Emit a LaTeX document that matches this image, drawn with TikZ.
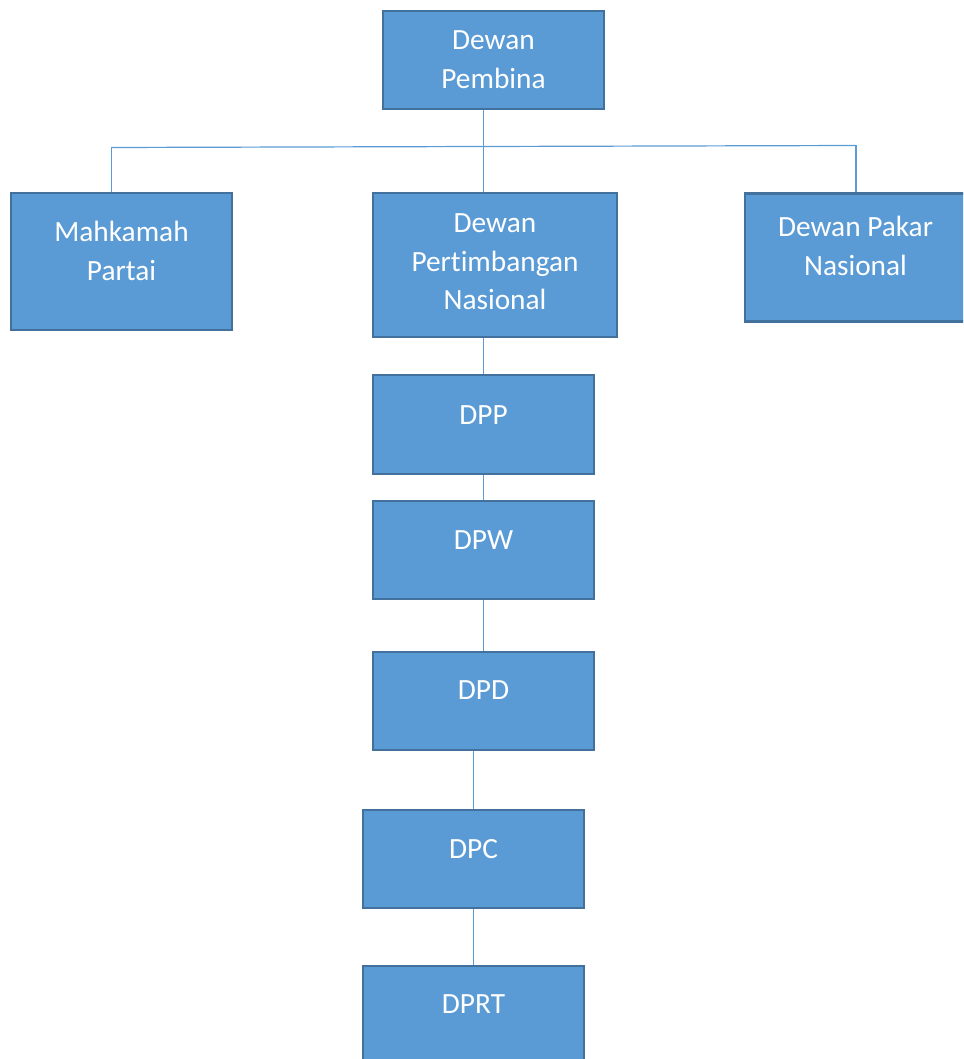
\documentclass[tikz,border=0pt]{standalone}
\usepackage{fontspec}
\setmainfont{Carlito}[Ligatures={NoCommon}]
\definecolor{unitfill}{HTML}{5B9BD5}
\definecolor{unitedge}{HTML}{41719C}
\definecolor{linkblue}{HTML}{5B9BD5}
\tikzset{
  unit/.style={rectangle, draw=unitedge, fill=unitfill, line width=1.9pt, inner sep=0pt},
  caption/.style={text=white, align=center, font=\fontsize{22}{29}\selectfont},
  link/.style={draw=linkblue, line width=0.9pt}
}
\begin{document}
\begin{tikzpicture}[x=0.75pt, y=-0.75pt]
			\pgfmathsetmacro{\px}{0.75}
			\useasboundingbox (0,0) rectangle (963,1059);
			\clip (0,0) rectangle (963,1059);
			% top and second row
			\node[unit, minimum width=221*\px pt, minimum height=98*\px pt, label={[caption]center:Dewan\\Pembina}] (pembina) at (493.5,60) {};
			\node[unit, minimum width=221*\px pt, minimum height=137*\px pt, label={[caption, yshift=10.5*\px pt]center:Mahkamah\\Partai}] (mahkamah) at (121.5,261.5) {};
			\node[unit, minimum width=244*\px pt, minimum height=144*\px pt, label={[caption, yshift=3*\px pt]center:Dewan\\Pertimbangan\\Nasional}] (dpn) at (495,265) {};
			\node[unit, minimum width=221*\px pt, minimum height=128*\px pt, label={[caption, yshift=11.5*\px pt]center:Dewan Pakar\\Nasional}] (pakar) at (855.5,257.5) {};
			% column of boards
			\node[unit, minimum width=221*\px pt, minimum height=99*\px pt, label={[caption, yshift=9.5*\px pt]center:DPP}] (dpp) at (483.5,424.5) {};
			\node[unit, minimum width=221*\px pt, minimum height=98*\px pt, label={[caption, yshift=10*\px pt]center:DPW}] (dpw) at (483.5,550) {};
			\node[unit, minimum width=221*\px pt, minimum height=98*\px pt, label={[caption, yshift=11*\px pt]center:DPD}] (dpd) at (483.5,701) {};
			\node[unit, minimum width=221*\px pt, minimum height=98*\px pt, label={[caption, yshift=10*\px pt]center:DPC}] (dpc) at (473.5,859) {};
			\node[unit, minimum width=221*\px pt, minimum height=98*\px pt, label={[caption, yshift=11*\px pt]center:DPRT}] (dprt) at (473.5,1015) {};
			% connectors
			\coordinate (busL) at (111.5,147.5);
			\coordinate (busR) at (856,145.5);
			\draw[link] (busL) -- (busR);
			\draw[link] (busL) -- (busL |- mahkamah.north);
			\draw[link] (busR) -- (busR |- pakar.north);
			\draw[link] (dpp.north |- pembina.south) -- (dpp.north |- dpn.north);
			\draw[link] (dpp.north |- dpn.south) -- (dpp.north);
			\draw[link] (dpp) -- (dpw);
			\draw[link] (dpw) -- (dpd);
			\draw[link] (dpc.north |- dpd.south) -- (dpc.north);
			\draw[link] (dpc) -- (dprt);
\end{tikzpicture}
\end{document}
